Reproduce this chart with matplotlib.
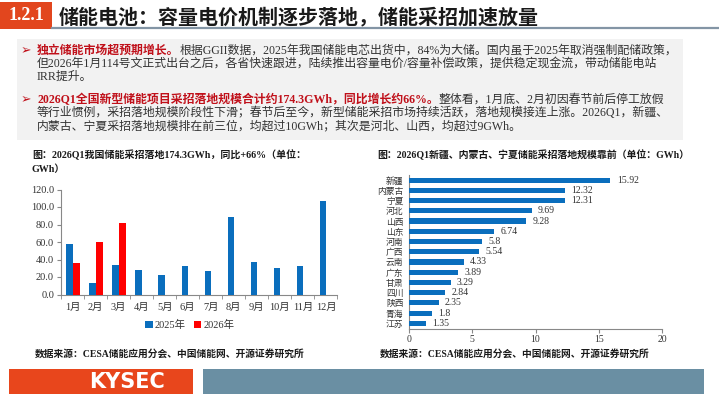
import matplotlib
matplotlib.use("Agg")
import matplotlib.pyplot as plt
from matplotlib.patches import Rectangle
from matplotlib.lines import Line2D
import numpy as np

W, H = 719, 405
FAM = ['Liberation Serif', 'Noto Sans CJK SC', 'DejaVu Sans']
CJK = ['Noto Sans CJK SC', 'DejaVu Sans']

# ---------------- data ----------------
months = ['1月', '2月', '3月', '4月', '5月', '6月', '7月', '8月', '9月', '10月', '11月', '12月']
v2025 = [57.4, 12.6, 34.1, 27.6, 22.0, 32.2, 26.7, 89.1, 37.7, 30.5, 33.1, 107.0]
v2026 = [35.9, 59.7, 82.2]
series_names = ['2025年', '2026年']

provinces = ['新疆', '内蒙古', '宁夏', '河北', '山西', '山东', '河南', '广西', '云南',
             '广东', '甘肃', '四川', '陕西', '青海', '江苏']
prov_vals = [15.92, 12.32, 12.31, 9.69, 9.28, 6.74, 5.8, 5.54, 4.33, 3.89, 3.29, 2.84, 2.35, 1.8, 1.35]

title = '储能电池：容量电价机制逐步落地，储能采招加速放量'
section = '1.2.1'
left_title = ['图：2026Q1我国储能采招落地174.3GWh，同比+66%（单位：', 'GWh）']
right_title = '图：2026Q1新疆、内蒙古、宁夏储能采招落地规模靠前（单位：GWh）'
source = '数据来源：CESA储能应用分会、中国储能网、开源证券研究所'

RED_B = '#C0101A'
DARK = '#333333'
para1 = [
    [('独立储能市场超预期增长。', RED_B, 'bold'),
     ('根据GGII数据，2025年我国储能电芯出货中，84%为大储。国内虽于2025年取消强制配储政策，', DARK, 'normal')],
    [('但2026年1月114号文正式出台之后，各省快速跟进，陆续推出容量电价/容量补偿政策，提供稳定现金流，带动储能电站', DARK, 'normal')],
    [('IRR提升。', DARK, 'normal')],
]
para2 = [
    [('2026Q1全国新型储能项目采招落地规模合计约174.3GWh，同比增长约66%。', RED_B, 'bold'),
     ('整体看，1月底、2月初因春节前后停工放假', DARK, 'normal')],
    [('等行业惯例，采招落地规模阶段性下滑；春节后至今，新型储能采招市场持续活跃，落地规模接连上涨。2026Q1，新疆、', DARK, 'normal')],
    [('内蒙古、宁夏采招落地规模排在前三位，均超过10GWh；其次是河北、山西，均超过9GWh。', DARK, 'normal')],
]

# ---------------- figure ----------------
fig = plt.figure(figsize=(W / 100, H / 100), dpi=100)
fig.patch.set_facecolor('white')
renderer = fig.canvas.get_renderer()


def fx(x):
    return x / W


def fy(y):
    return 1 - y / H


def rect(x0, y0, x1, y1, color, z=0):
    fig.patches.append(Rectangle((fx(x0), fy(y1)), (x1 - x0) / W, (y1 - y0) / H,
                                 transform=fig.transFigure, facecolor=color,
                                 edgecolor='none', zorder=z))


# header
rect(0, 2, 52, 29, '#E2461E', 1)
fig.text(fx(26), fy(16), section, color='white', fontsize=13, fontweight='bold',
         family=FAM, ha='center', va='center')
fig.text(fx(59), fy(17), title, color='#1A1A1A', fontsize=14.4, fontweight='bold',
         family=CJK, ha='left', va='center')
fig.lines.append(Line2D([fx(52), fx(718)], [fy(28), fy(28)], transform=fig.transFigure,
                        color='#8395A5', lw=1.6))

# text box
rect(17, 39, 683, 140, '#F2F2F2', 0)


def seg_width(segs, fs):
    w = 0
    for txt, color, weight in segs:
        t = fig.text(0, 0, txt, fontsize=fs, fontweight=weight, family=FAM)
        w += t.get_window_extent(renderer).width
        t.remove()
    return w


def draw_segments(x, y, segs, fs):
    cx = x
    for txt, color, weight in segs:
        t = fig.text(fx(cx), fy(y), txt, color=color, fontsize=fs, fontweight=weight,
                     family=FAM, ha='left', va='center')
        cx += t.get_window_extent(renderer).width


w10 = seg_width(para1[0], 10)
fs_body = 10 * (679 - 37) / w10

ys1 = [51, 64, 77]
ys2 = [100, 113, 126]
for para, ys in ((para1, ys1), (para2, ys2)):
    fig.text(fx(21), fy(ys[0]), '➢', color=RED_B, fontsize=9, family=['DejaVu Sans'],
             ha='left', va='center')
    for segs, y in zip(para, ys):
        draw_segments(37, y, segs, fs_body)

# ---------------- left chart ----------------
axL = fig.add_axes([fx(61), fy(294.5), (337.5 - 61) / W, (294.5 - 189.5) / H])
x = np.arange(len(months))
bw = 0.29
axL.bar(x - bw / 2 + 0.02, v2025, width=bw, color='#0A6EBD', label=series_names[0], zorder=3)
axL.bar(x[:len(v2026)] + bw / 2 + 0.02, v2026, width=bw, color='#FF0000',
        label=series_names[1], zorder=3)
axL.set_xlim(-0.5, len(months) - 0.5)
axL.set_ylim(0, 120)
axL.set_yticks(np.arange(0, 121, 20))
axL.set_yticklabels([f'{v:.1f}' for v in np.arange(0, 121, 20)])
axL.set_xticks(x)
axL.set_xticklabels(months)
axL.set_xticks(np.arange(-0.5, len(months), 1), minor=True)
axL.tick_params(axis='x', which='major', length=0, pad=6, labelsize=7.5, colors='#333333')
axL.tick_params(axis='x', which='minor', length=3, color='#888888')
axL.tick_params(axis='y', length=3, color='#888888', labelsize=7.5, labelcolor='#333333', pad=2)
for lab in axL.get_xticklabels() + axL.get_yticklabels():
    lab.set_family(FAM)
for s in ('top', 'right'):
    axL.spines[s].set_visible(False)
for s in ('left', 'bottom'):
    axL.spines[s].set_color('#888888')
    axL.spines[s].set_linewidth(0.8)
leg = axL.legend(loc='center', bbox_to_anchor=(fx(190), fy(325)), bbox_transform=fig.transFigure,
                 ncol=2, frameon=False, handlelength=0.7, handleheight=0.7, handletextpad=0.2,
                 columnspacing=0.8, prop={'family': FAM, 'size': 7.5})
for t in leg.get_texts():
    t.set_color('#333333')

fig.text(fx(32), fy(155), left_title[0], fontsize=7.2, fontweight='bold', family=FAM,
         color='#1A1A1A', ha='left', va='center')
fig.text(fx(32), fy(169), left_title[1], fontsize=7.2, fontweight='bold', family=FAM,
         color='#1A1A1A', ha='left', va='center')
fig.text(fx(35), fy(354), source, fontsize=7.0, fontweight='bold', family=FAM,
         color='#1A1A1A', ha='left', va='center')

# ---------------- right chart ----------------
axR = fig.add_axes([fx(409), fy(328.5), (662 - 409) / W, (328.5 - 175) / H])
yy = np.arange(len(provinces))
axR.barh(yy, prov_vals, height=0.5, color='#0A6EBD', zorder=3)
axR.set_ylim(len(provinces) - 0.5, -0.5)
axR.set_xlim(0, 20)
axR.set_xticks([0, 5, 10, 15, 20])
axR.set_yticks(yy)
axR.set_yticklabels(provinces)
for lab in axR.get_yticklabels():
    lab.set_family(CJK)
for lab in axR.get_xticklabels():
    lab.set_family(FAM)
axR.tick_params(axis='y', length=0, labelsize=6.3, pad=4, labelcolor='#333333')
axR.tick_params(axis='x', length=3, color='#888888', labelsize=7, labelcolor='#333333', pad=2)
for s in ('top', 'right'):
    axR.spines[s].set_visible(False)
for s in ('left', 'bottom'):
    axR.spines[s].set_color('#888888')
    axR.spines[s].set_linewidth(0.8)
for yv, v in zip(yy, prov_vals):
    axR.text(v + 0.5, yv, str(v), fontsize=7, family=FAM, color='#333333',
             ha='left', va='center')

fig.text(fx(377), fy(155), right_title, fontsize=7.15, fontweight='bold', family=FAM,
         color='#1A1A1A', ha='left', va='center')
fig.text(fx(380), fy(354), source, fontsize=7.0, fontweight='bold', family=FAM,
         color='#1A1A1A', ha='left', va='center')

# ---------------- footer ----------------
rect(9, 369, 193, 394, '#E8461C', 1)
rect(203, 369, 704, 394, '#6A8FA3', 1)
fig.text(fx(127), fy(381.5), 'KYSEC', color='white', fontsize=15, fontweight='bold',
         family=['DejaVu Sans'], ha='center', va='center')

fig.savefig('out.png', dpi=100, facecolor='white')
